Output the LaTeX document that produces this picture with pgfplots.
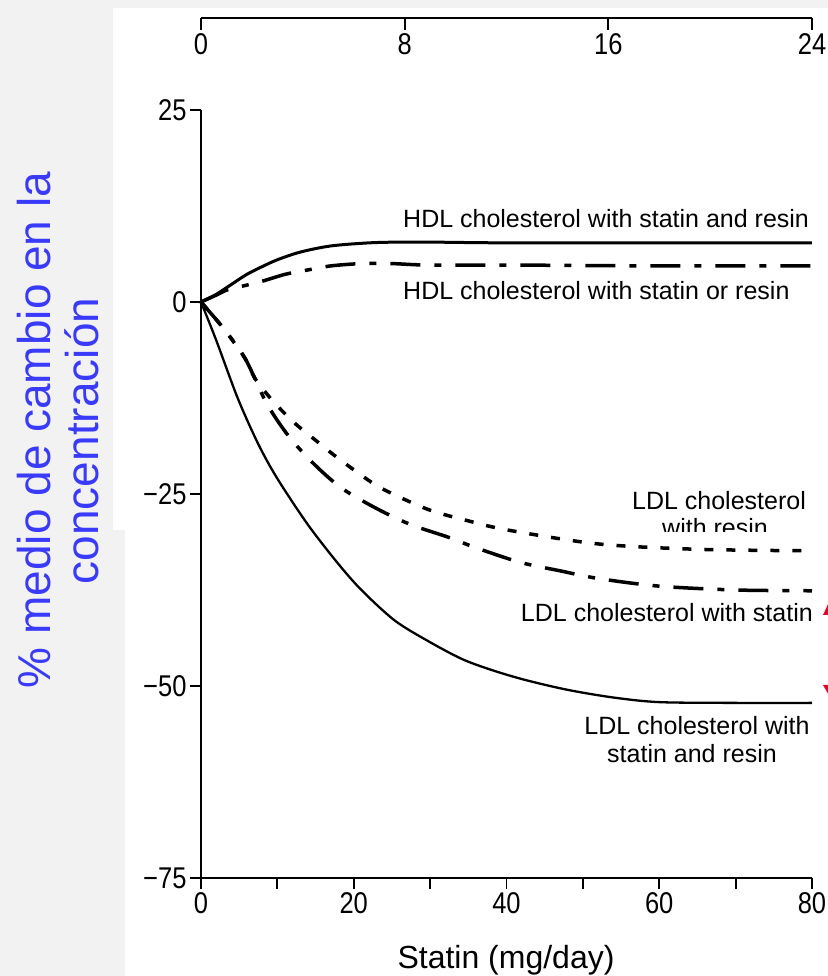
\documentclass[border=0pt]{standalone}
\usepackage{fontspec}
\setmainfont{Liberation Sans}
\newfontfamily\tickfont[FakeStretch=0.85]{Liberation Sans}
\usepackage{pgfplots}
\pgfplotsset{compat=1.18}

\definecolor{pagegray}{RGB}{242,242,242}
\definecolor{labelblue}{RGB}{58,58,250}
\definecolor{markred}{RGB}{230,0,40}

\begin{document}
\begin{tikzpicture}
\path[use as bounding box] (0,0) rectangle (828bp,976bp);
\clip (0,0) rectangle (828bp,976bp);
% page background with the white drawing area
\fill[pagegray] (0,0) rectangle (828bp,976bp);
\fill[white] (113bp,968bp) -- (828bp,968bp) -- (828bp,0bp) -- (125bp,0bp)
  -- (125bp,446bp) -- (113bp,446bp) -- cycle;

% secondary scale (top)
\begin{axis}[
  at={(201bp,958bp)}, anchor=south west,
  scale only axis, width=611bp, height=10bp,
  xmin=0, xmax=24, ymin=0, ymax=1,
  axis x line*=bottom, axis y line=none,
  tick align=outside,
  xtick={0,8,16,24}, xticklabels={0,8,16,24},
  major tick length=12bp,
  axis line style={line width=2bp},
  tick style={line width=1.8bp, black},
  xticklabel style={font=\tickfont\fontsize{30bp}{32bp}\selectfont},
]
\end{axis}

% main plot
\begin{axis}[
  at={(201bp,98bp)}, anchor=south west,
  scale only axis, width=611bp, height=768bp,
  xmin=0, xmax=80, ymin=-75, ymax=25,
  axis x line*=bottom, axis y line*=left,
  tick align=outside,
  xtick={0,20,40,60,80}, xticklabels={0,20,40,60,80},
  minor xtick={10,30,50,70},
  ytick={-75,-50,-25,0,25}, yticklabels={−75,−50,−25,0,25},
  major tick length=11bp, minor tick length=11bp,
  axis line style={line width=2bp},
  tick style={line width=1.8bp, black},
  ticklabel style={font=\tickfont\fontsize{30bp}{32bp}\selectfont},
  clip=false,
]
% HDL cholesterol with statin and resin
\addplot[black, line width=3bp, smooth] coordinates {
  (0,0) (2,1.0) (4,2.3) (6,3.6) (8,4.6) (10,5.5) (13,6.5) (17,7.3)
  (22,7.7) (26,7.8) (30,7.8) (40,7.7) (60,7.7) (80,7.7)};
% HDL cholesterol with statin or resin
\addplot[black, line width=3.5bp, smooth,
  dash pattern=on 30bp off 14bp on 7bp off 14bp] coordinates {
  (0,0) (2,0.9) (3.5,1.6) (6,2.2) (8,2.7) (11,3.6) (13.6,4.1) (17,4.7)
  (21,5.0) (25,5.0) (30,4.8) (42,4.8) (60,4.7) (80,4.7)};
% LDL cholesterol with resin
\addplot[black, line width=3.5bp, smooth,
  dash pattern=on 9bp off 13bp] coordinates {
  (0,0) (3,-3.5) (5.8,-7.4) (7.1,-10) (9.5,-13) (12.3,-15.8) (15,-18)
  (17.5,-20) (20.5,-22.2) (23.7,-24.3) (29.7,-27) (35,-28.5) (40.2,-29.7)
  (52,-31.5) (65,-32.2) (80,-32.4)};
% LDL cholesterol with statin
\addplot[black, line width=3.5bp, smooth,
  dash pattern=on 30bp off 14bp on 7bp off 14bp] coordinates {
  (0,0) (3,-3.5) (5.8,-7.4) (8.6,-13.2) (11.5,-17.5) (14.9,-21.2)
  (18.5,-24.3) (23.2,-27) (27.5,-29) (32.3,-30.6) (36,-32) (41.8,-33.9)
  (47,-35) (52,-36) (60,-37) (70,-37.5) (80,-37.6)};
% LDL cholesterol with statin and resin
\addplot[black, line width=2.3bp, smooth] coordinates {
  (0,0) (2,-5) (4.8,-12.5) (7.5,-18.5) (10,-23) (14,-29) (17.9,-34)
  (21,-37.5) (25.4,-41.5) (30,-44.3) (34.2,-46.5) (38,-47.9) (42.4,-49.2)
  (48,-50.5) (54,-51.5) (60,-52.1) (70,-52.2) (80,-52.2)};
\end{axis}

% curve labels
\begin{scope}[every node/.style={inner sep=0pt, font=\fontsize{25bp}{28bp}\selectfont}]
\node[anchor=base west] at (403bp,748bp) {HDL cholesterol with statin and resin};
\node[anchor=base west] at (403bp,676bp) {HDL cholesterol with statin or resin};
\node[anchor=base] at (719bp,466bp) {LDL cholesterol};
\node[anchor=base] at (715bp,439bp) {with resin};
\node[anchor=base east] at (813bp,354bp) {LDL cholesterol with statin};
\node[anchor=base] at (697bp,241bp) {LDL cholesterol with};
\node[anchor=base] at (692bp,213bp) {statin and resin};
\end{scope}
\fill[white] (630bp,435bp) rectangle (800bp,444bp);

% red pointers at the right edge
\fill[markred] (823bp,361bp) -- (830bp,376bp) -- (837bp,361bp) -- cycle;
\fill[markred] (823bp,291bp) -- (837bp,291bp) -- (830bp,279bp) -- cycle;

% axis titles
\node[anchor=base, inner sep=0pt, font=\fontsize{32bp}{34bp}\selectfont]
  at (506bp,8bp) {Statin (mg/day)};
\node[rotate=90, anchor=base, inner sep=0pt, text=labelblue,
  font=\fontsize{46bp}{50bp}\selectfont] at (50bp,546bp) {\% medio de cambio en la};
\node[rotate=90, anchor=base, inner sep=0pt, text=labelblue,
  font=\fontsize{46bp}{50bp}\selectfont] at (98bp,535bp) {concentración};
\end{tikzpicture}
\end{document}
